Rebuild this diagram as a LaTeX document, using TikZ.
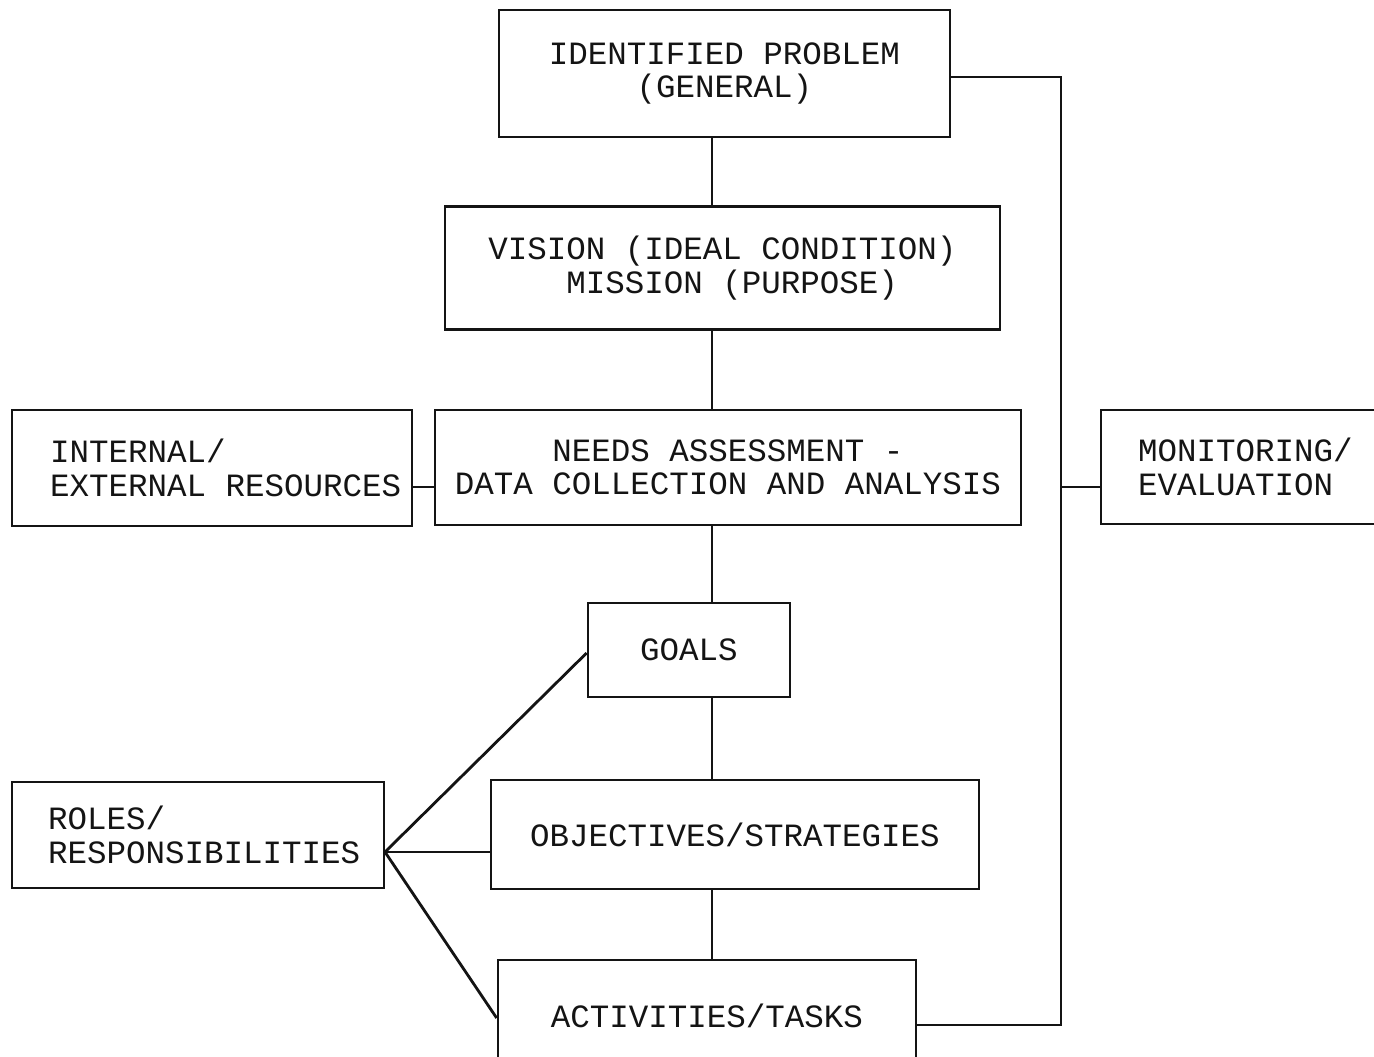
\documentclass[tikz,border=0pt]{standalone}
\usepackage{fontspec}
\setmonofont{Liberation Mono}
\usepackage{xcolor}
\definecolor{ink}{RGB}{20,20,20}
\usepackage{tikz}
\usetikzlibrary{positioning}
\tikzset{
  flowbox/.style={draw=ink, line width=1.6pt, align=center, inner sep=0pt,
                  font=\ttfamily\fontsize{18.5}{19}\selectfont, text=ink},
  sidebox/.style={flowbox, align=left},
  link/.style={draw=ink, line width=1.6pt},
}
\begin{document}
\begin{tikzpicture}[x=0.02cm,y=-0.02cm]
\useasboundingbox (0,0) rectangle (1374,1057);
\clip (0,0) rectangle (1374,1057);
% main column
\node[flowbox,minimum width=9.02cm,minimum height=2.54cm] (problem) at (724.5,73.5)
  {IDENTIFIED PROBLEM\\(GENERAL)};
\node[flowbox,minimum width=11.1cm,minimum height=2.46cm] (vision) at (722.5,268)
  {VISION (IDEAL CONDITION)\\\ MISSION (PURPOSE)};
\node[flowbox,minimum width=11.72cm,minimum height=2.3cm] (needs) at (728,467.5)
  {NEEDS ASSESSMENT -\\DATA COLLECTION AND ANALYSIS};
\node[flowbox,minimum width=4.04cm,minimum height=1.88cm] (goals) at (689,650)
  {GOALS};
\node[flowbox,minimum width=9.76cm,minimum height=2.18cm] (objectives) at (735,834.5)
  {OBJECTIVES/STRATEGIES};
\node[flowbox,minimum width=8.36cm,minimum height=2.24cm] (activities) at (707,1016)
  {ACTIVITIES/TASKS};
% side boxes
\node[sidebox,text width=6.48cm,minimum width=8cm,minimum height=2.32cm] (resources) at (212,468)
  {INTERNAL/\\\mbox{EXTERNAL\hspace{0.6em}RESOURCES}};
\node[sidebox,text width=6cm,minimum width=7.44cm,minimum height=2.12cm] (roles) at (198,835)
  {ROLES/\\\mbox{RESPONSIBILITIES}};
\node[sidebox,text width=4.48cm,minimum width=5.96cm,minimum height=2.28cm] (monitor) at (1250,467)
  {MONITORING/\\EVALUATION};
% connectors
\coordinate (spine) at (712,0);
\coordinate (rail) at (1061,0);
\coordinate (tie) at (0,487);
\coordinate (hub) at (385,852);
\draw[link] (problem.south -| spine) -- (vision.north -| spine);
\draw[link] (vision.south -| spine) -- (needs.north -| spine);
\draw[link] (needs.south -| spine) -- (goals.north -| spine);
\draw[link] (goals.south -| spine) -- (objectives.north -| spine);
\draw[link] (objectives.south -| spine) -- (activities.north -| spine);
\draw[link] (tie -| resources.east) -- (tie -| needs.west);
\draw[link] (hub) -- ([yshift=-0.06cm]goals.west);
\draw[link] (hub) -- (hub -| objectives.west);
\draw[link] (hub) -- ([yshift=-0.04cm]activities.west);
% feedback loop
\draw[link] ([yshift=-0.07cm]problem.east) -- ([yshift=-0.07cm]problem.east -| rail)
  -- ([yshift=-0.18cm]activities.east -| rail) -- ([yshift=-0.18cm]activities.east);
\draw[link] (tie -| rail) -- (tie -| monitor.west);
\end{tikzpicture}
\end{document}
